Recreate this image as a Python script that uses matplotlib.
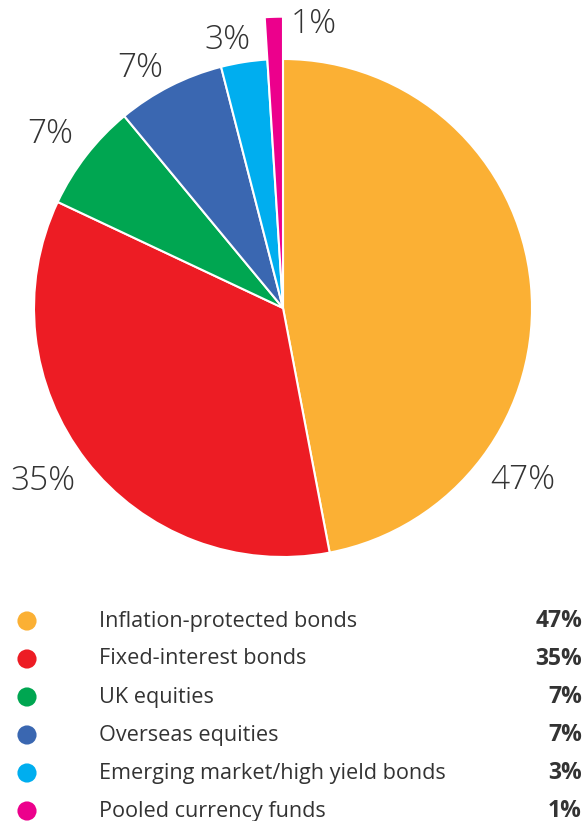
import matplotlib
matplotlib.use("Agg")
import matplotlib.pyplot as plt

plt.rcParams['font.family'] = ['Open Sans', 'DejaVu Sans']

categories = ["Inflation-protected bonds", "Fixed-interest bonds", "UK equities",
              "Overseas equities", "Emerging market/high yield bonds", "Pooled currency funds"]
values = [47, 35, 7, 7, 3, 1]
colors = ["#FBB034", "#ED1C24", "#00A651", "#3A67B1", "#00AEEF", "#EC008C"]
pct_labels = ["47%", "35%", "7%", "7%", "3%", "1%"]

# label positions (pixels from top-left)
label_pos = [(523, 480), (43, 481), (50, 134), (140, 68), (227, 40), (314, 24)]

W, H = 584, 821
fig = plt.figure(figsize=(W / 100, H / 100), dpi=100)
ax = fig.add_axes([0, 0, 1, 1])

cx, cy, R = 283, 308, 249
wedges, _ = ax.pie(values, colors=colors, startangle=90, counterclock=False,
                   center=(cx, H - cy), radius=R,
                   wedgeprops=dict(edgecolor="white", linewidth=1.5))
# small slice sticks out further
wedges[-1].set_radius(R * 1.17)

ax.set_xlim(0, W)
ax.set_ylim(0, H)
ax.set_aspect("equal")
ax.axis("off")

for lab, (x, y) in zip(pct_labels, label_pos):
    ax.text(x, H - y, lab, fontsize=24, color="#333333", ha="center", va="center",
            fontweight="light")

# legend
row_y = [621, 659, 697, 735, 773, 811]
for c, name, lab, y in zip(colors, categories, pct_labels, row_y):
    ax.scatter([27], [H - y], s=190, color=c, edgecolors="none")
    ax.text(99, H - y, name, fontsize=15.6, color="#333333", ha="left", va="center")
    ax.text(582, H - y, lab, fontsize=16.5, color="#333333", ha="right", va="center",
            fontweight="bold")

fig.savefig("out.png", dpi=100)
